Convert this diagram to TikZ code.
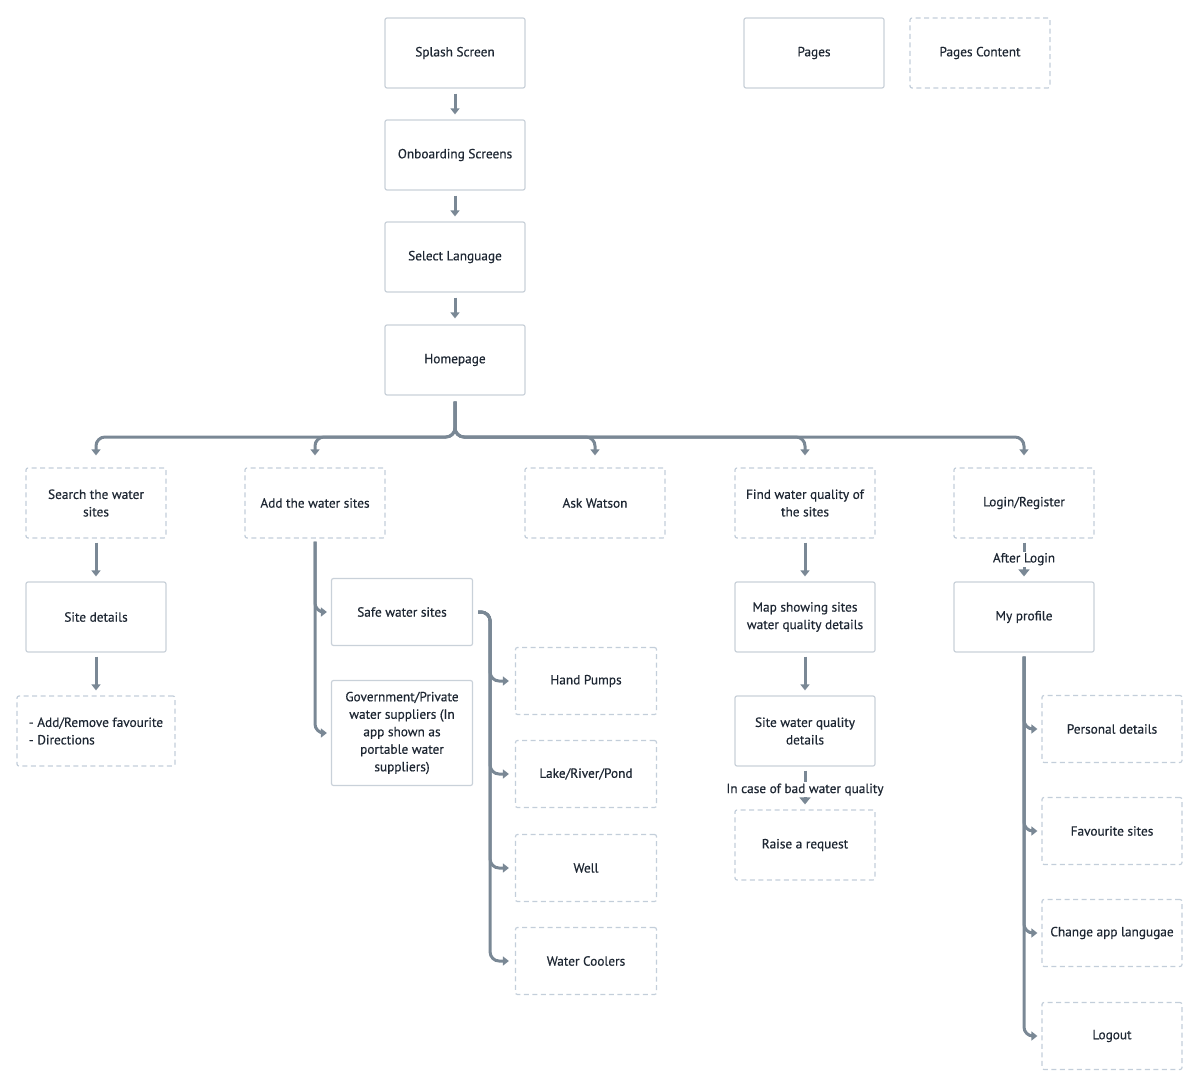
\documentclass[tikz,border=0pt]{standalone}
\usepackage{fontspec}
\setmainfont{PT Sans}[FakeBold=0.5]
\usetikzlibrary{arrows.meta}
\definecolor{ln}{HTML}{7A8895}
\definecolor{bd}{HTML}{C9D1D9}
\definecolor{dbd}{HTML}{C3CEDA}
\definecolor{tx}{HTML}{1E2733}
\begin{document}
\begin{tikzpicture}[x=1pt,y=-1pt,
 box/.style={draw=bd,line width=1.2pt,rounded corners=2pt,minimum width=140pt,minimum height=70pt,inner sep=2pt,align=center,text=tx,font=\fontsize{13.3}{17.5}\selectfont},
 dbox/.style={box,draw=dbd,dash pattern=on 5pt off 3.5pt},
 conn/.style={draw=ln,line width=3pt,rounded corners=9pt,-{Triangle[length=6pt,width=9pt]}},
 lconn/.style={draw=ln,line width=3pt,-{Triangle[length=7pt,width=11pt]}},
 lbl/.style={fill=white,text=tx,font=\fontsize{13.3}{17.5}\selectfont,inner xsep=2pt,inner ysep=1.5pt}
]
\useasboundingbox (0,0) rectangle (1200,1086);
% top column
\node[box] (splash) at (455,53) {Splash Screen};
\node[box] (onb) at (455,155) {Onboarding Screens};
\node[box] (lang) at (455,257) {Select Language};
\node[box] (home) at (455,360) {Homepage};
\node[box] (pages) at (814,53) {Pages};
\node[dbox] (pcont) at (980,53) {Pages Content};
% row 2
\node[dbox] (search) at (96,503) {Search the water\\sites};
\node[dbox] (add) at (315,503) {Add the water sites};
\node[dbox] (watson) at (595,503) {Ask Watson};
\node[dbox] (find) at (805,503) {Find water quality of\\the sites};
\node[dbox] (login) at (1024,503) {Login/Register};
% search branch
\node[box] (site) at (96,617) {Site details};
\node[dbox,minimum width=158pt,align=left] (fav) at (96,731) {- Add/Remove favourite\\- Directions};
% add branch
\node[box,minimum width=141pt,minimum height=67pt] (safe) at (402,612) {Safe water sites};
\node[box,minimum width=141pt,minimum height=105pt] (gov) at (402,733) {Government/Private\\water suppliers (In\\app shown as\\portable water\\suppliers)};
\node[dbox,minimum width=141pt,minimum height=67pt] (hand) at (586,681) {Hand Pumps};
\node[dbox,minimum width=141pt,minimum height=67pt] (lake) at (586,774) {Lake/River/Pond};
\node[dbox,minimum width=141pt,minimum height=67pt] (well) at (586,868) {Well};
\node[dbox,minimum width=141pt,minimum height=67pt] (cool) at (586,961) {Water Coolers};
% find branch
\node[box] (map) at (805,617) {Map showing sites\\water quality details};
\node[box] (swq) at (805,731) {Site water quality\\details};
\node[dbox] (raise) at (805,845) {Raise a request};
% login branch
\node[box] (prof) at (1024,617) {My profile};
\node[dbox,minimum height=67pt] (pers) at (1112,729) {Personal details};
\node[dbox,minimum height=67pt] (favs) at (1112,831) {Favourite sites};
\node[dbox,minimum height=67pt] (chg) at (1112,933) {Change app langugae};
\node[dbox,minimum height=67pt] (logout) at (1112,1036) {Logout};
% connectors: top column
\draw[conn,shorten <=5pt,shorten >=5pt] (splash) -- (onb);
\draw[conn,shorten <=5pt,shorten >=5pt] (onb) -- (lang);
\draw[conn,shorten <=5pt,shorten >=6pt] (lang) -- (home);
% fan out
\coordinate (fan) at (455,437);
\foreach \c in {search,add,watson,find,login}{
  \draw[conn,shorten <=6pt,shorten >=12pt] (home.south) -- (fan) -| (\c.north);
}
% search
\draw[conn,shorten <=4pt,shorten >=5pt] (search) -- (site);
\draw[conn,shorten <=4pt,shorten >=5pt] (site) -- (fav);
% add
\draw[conn,shorten <=3pt,shorten >=4pt] (add.south) |- (safe.west);
\draw[conn,shorten <=3pt,shorten >=4pt] (add.south) |- (gov.west);
\foreach \c in {hand,lake,well,cool}{
  \draw[conn,shorten <=5pt,shorten >=6pt] (safe.east) -- ++(17,0) |- (\c.west);
}
% find
\draw[conn,shorten <=4pt,shorten >=5pt] (find) -- (map);
\draw[conn,shorten <=4pt,shorten >=5pt] (map) -- (swq);
\draw[lconn,shorten <=4pt,shorten >=5pt] (swq) -- node[lbl,pos=0.54] {In case of bad water quality} (raise);
% login
\draw[lconn,shorten <=4pt,shorten >=5pt] (login) -- node[lbl,pos=0.48] {After Login} (prof);
\foreach \c in {pers,favs,chg,logout}{
  \draw[conn,shorten <=4pt,shorten >=4pt] (prof.south) |- (\c.west);
}
\end{tikzpicture}
\end{document}
